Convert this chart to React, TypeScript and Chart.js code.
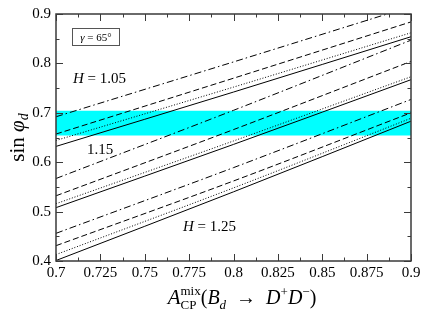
import React, { useEffect, useRef } from "react";
import { Chart, registerables } from "chart.js";

Chart.register(...registerables);

// ---- data ----
const xPoints = [0.7, 0.8, 0.9];

// H = 1.05
const h105DashDot = [0.692, 0.803, 0.915];
const h105Dashed = [0.657, 0.770, 0.884];
const h105Dotted = [0.644, 0.752, 0.862];
const h105Solid = [0.632, 0.742, 0.854];
// H = 1.15
const h115DashDot = [0.567, 0.705, 0.847];
const h115Dashed = [0.532, 0.666, 0.804];
const h115Dotted = [0.516, 0.643, 0.773];
const h115Solid = [0.508, 0.636, 0.767];
// H = 1.25
const h125DashDot = [0.456, 0.589, 0.727];
const h125Dashed = [0.431, 0.562, 0.700];
const h125Dotted = [0.413, 0.548, 0.689];
const h125Solid = [0.401, 0.540, 0.683];

const bandX = [0.7, 0.9];
const bandLow = 0.654;
const bandHigh = 0.704;

const xTickValues = [0.7, 0.725, 0.75, 0.775, 0.8, 0.825, 0.85, 0.875, 0.9];
const yTickValues = [0.4, 0.5, 0.6, 0.7, 0.8, 0.9];

const curveLabels = [
  { h: "H", v: "= 1.05", x: 0.7096, y: 0.771 },
  { h: "", v: "1.15", x: 0.7175, y: 0.626 },
  { h: "H", v: "= 1.25", x: 0.7715, y: 0.4706 },
];

const SERIF = '"Liberation Serif", "DejaVu Serif", serif';

type Seg = { t: string; f: string; dy?: number; sub?: { t: string; f: string; dy: number } };

function segWidth(ctx: CanvasRenderingContext2D, s: Seg) {
  ctx.font = s.f;
  let w = ctx.measureText(s.t).width;
  if (s.sub) {
    ctx.font = s.sub.f;
    w = Math.max(w, ctx.measureText(s.sub.t).width);
  }
  return w;
}

function drawSegs(ctx: CanvasRenderingContext2D, segs: Seg[], x: number, y: number, align: "left" | "center") {
  const total = segs.reduce((a, s) => a + segWidth(ctx, s), 0);
  let cx = align === "center" ? x - total / 2 : x;
  ctx.textAlign = "left";
  ctx.textBaseline = "alphabetic";
  for (const s of segs) {
    const w = segWidth(ctx, s);
    ctx.font = s.f;
    ctx.fillText(s.t, cx, y + (s.dy || 0));
    if (s.sub) {
      ctx.font = s.sub.f;
      ctx.fillText(s.sub.t, cx, y + s.sub.dy);
    }
    cx += w;
  }
}

const decorPlugin = {
  id: "decor",
  afterDatasetsDraw(chart: any) {
    const ctx: CanvasRenderingContext2D = chart.ctx;
    const { left, right, top, bottom } = chart.chartArea;
    const xs = chart.scales.x;
    const ys = chart.scales.y;
    ctx.save();
    // frame
    ctx.strokeStyle = "#3a3a3a";
    ctx.lineWidth = 1.5;
    ctx.strokeRect(left, top, right - left, bottom - top);
    ctx.lineWidth = 1;
    ctx.beginPath();
    for (let i = 0; i < xTickValues.length; i++) {
      const px = Math.round(xs.getPixelForValue(xTickValues[i])) + 0.5;
      ctx.moveTo(px, bottom); ctx.lineTo(px, bottom - 7);
      ctx.moveTo(px, top); ctx.lineTo(px, top + 7);
      if (i < xTickValues.length - 1) {
        const mx = Math.round(xs.getPixelForValue((xTickValues[i] + xTickValues[i + 1]) / 2)) + 0.5;
        ctx.moveTo(mx, bottom); ctx.lineTo(mx, bottom - 3.5);
        ctx.moveTo(mx, top); ctx.lineTo(mx, top + 3.5);
      }
    }
    for (let i = 0; i < yTickValues.length; i++) {
      const py = Math.round(ys.getPixelForValue(yTickValues[i])) + 0.5;
      ctx.moveTo(left, py); ctx.lineTo(left + 7, py);
      ctx.moveTo(right, py); ctx.lineTo(right - 7, py);
      if (i < yTickValues.length - 1) {
        const my = Math.round(ys.getPixelForValue((yTickValues[i] + yTickValues[i + 1]) / 2)) + 0.5;
        ctx.moveTo(left, my); ctx.lineTo(left + 3.5, my);
        ctx.moveTo(right, my); ctx.lineTo(right - 3.5, my);
      }
    }
    ctx.stroke();

    ctx.fillStyle = "#000";
    // gamma box
    const bx = left + 16.5, by = top + 14.5, bw = 47, bh = 17;
    ctx.strokeStyle = "#555";
    ctx.lineWidth = 1;
    ctx.strokeRect(bx, by, bw, bh);
    drawSegs(ctx, [
      { t: "\u03b3", f: `italic 11px ${SERIF}` },
      { t: " = 65\u00b0", f: `11px ${SERIF}` },
    ], bx + bw / 2, by + bh / 2 + 4, "center");

    // curve labels
    for (const l of curveLabels) {
      const px = xs.getPixelForValue(l.x);
      const py = ys.getPixelForValue(l.y) + 5;
      const segs: Seg[] = [];
      if (l.h) segs.push({ t: l.h + " ", f: `italic 15px ${SERIF}` });
      segs.push({ t: l.v, f: `15px ${SERIF}` });
      drawSegs(ctx, segs, px, py, "left");
    }

    // x title
    drawSegs(ctx, [
      { t: "A", f: `italic 21px ${SERIF}` },
      { t: "mix", f: `13px ${SERIF}`, dy: -9, sub: { t: "CP", f: `13px ${SERIF}`, dy: 5 } },
      { t: "(", f: `20px ${SERIF}` },
      { t: "B", f: `italic 20px ${SERIF}` },
      { t: "d", f: `italic 13px ${SERIF}`, dy: 5 },
      { t: "  \u2192  ", f: `20px ${SERIF}` },
      { t: "D", f: `italic 20px ${SERIF}` },
      { t: "+", f: `13px ${SERIF}`, dy: -8 },
      { t: "D", f: `italic 20px ${SERIF}` },
      { t: "\u2212", f: `13px ${SERIF}`, dy: -8 },
      { t: ")", f: `20px ${SERIF}` },
    ], 242, 304, "center");

    // y title
    ctx.save();
    ctx.translate(24, (top + bottom) / 2);
    ctx.rotate(-Math.PI / 2);
    drawSegs(ctx, [
      { t: "sin ", f: `21px ${SERIF}` },
      { t: "\u03c6", f: `italic 21px ${SERIF}` },
      { t: "d", f: `italic 14px ${SERIF}`, dy: 4 },
    ], 0, 0, "center");
    ctx.restore();

    ctx.restore();
  },
};

function toXY(ys: number[]) {
  return xPoints.map((x, i) => ({ x, y: ys[i] }));
}

const DASHDOT = [7, 3, 1.5, 3];
const DASHED = [6, 3];
const DOTTED = [1, 1.8];

function line(data: number[], dash: number[]) {
  return {
    data: toXY(data),
    borderColor: "#000",
    borderWidth: 1,
    borderDash: dash,
    pointRadius: 0,
    fill: false,
    tension: 0,
    cubicInterpolationMode: "monotone" as const,
    clip: 0,
  };
}

export default function App() {
  const ref = useRef<HTMLCanvasElement>(null);
  useEffect(() => {
    document.body.style.margin = "0";
    const canvas = ref.current!;
    const chart = new Chart(canvas, {
      type: "line",
      data: {
        datasets: [
          line(h105DashDot, DASHDOT),
          line(h105Dashed, DASHED),
          line(h105Dotted, DOTTED),
          line(h105Solid, []),
          line(h115DashDot, DASHDOT),
          line(h115Dashed, DASHED),
          line(h115Dotted, DOTTED),
          line(h115Solid, []),
          line(h125DashDot, DASHDOT),
          line(h125Dashed, DASHED),
          line(h125Dotted, DOTTED),
          line(h125Solid, []),
          {
            data: bandX.map((x) => ({ x, y: bandHigh })),
            borderWidth: 0,
            borderColor: "rgba(0,0,0,0)",
            pointRadius: 0,
            fill: false,
          } as any,
          {
            data: bandX.map((x) => ({ x, y: bandLow })),
            borderWidth: 0,
            borderColor: "rgba(0,0,0,0)",
            backgroundColor: "#00ffff",
            pointRadius: 0,
            fill: "-1",
          } as any,
        ],
      },
      options: {
        animation: false,
        responsive: false,
        devicePixelRatio: 1,
        layout: { padding: { left: 0, right: 14, top: 13, bottom: 0 } },
        plugins: {
          legend: { display: false },
          tooltip: { enabled: false },
          filler: { drawTime: "beforeDatasetsDraw" } as any,
        },
        scales: {
          x: {
            type: "linear",
            min: 0.7,
            max: 0.9,
            grid: { display: false, drawTicks: false },
            border: { display: false },
            afterBuildTicks: (s: any) => {
              s.ticks = xTickValues.map((v) => ({ value: v }));
            },
            afterFit: (s: any) => {
              s.height = 50;
            },
            ticks: {
              autoSkip: false,
              maxRotation: 0,
              padding: 3,
              color: "#000",
              font: { family: SERIF, size: 15 },
              callback: (v: any) => String(v),
            },
          },
          y: {
            type: "linear",
            min: 0.4,
            max: 0.9,
            grid: { display: false, drawTicks: false },
            border: { display: false },
            afterBuildTicks: (s: any) => {
              s.ticks = yTickValues.map((v) => ({ value: v }));
            },
            afterFit: (s: any) => {
              s.width = 56;
            },
            ticks: {
              padding: 5,
              color: "#000",
              font: { family: SERIF, size: 15 },
              callback: (v: any) => Number(v).toFixed(1),
            },
          },
        },
      },
      plugins: [decorPlugin],
    });
    return () => chart.destroy();
  }, []);
  return (
    <div style={{ width: 425, height: 311, position: "relative", background: "#fff" }}>
      <canvas ref={ref} width={425} height={311} />
    </div>
  );
}
